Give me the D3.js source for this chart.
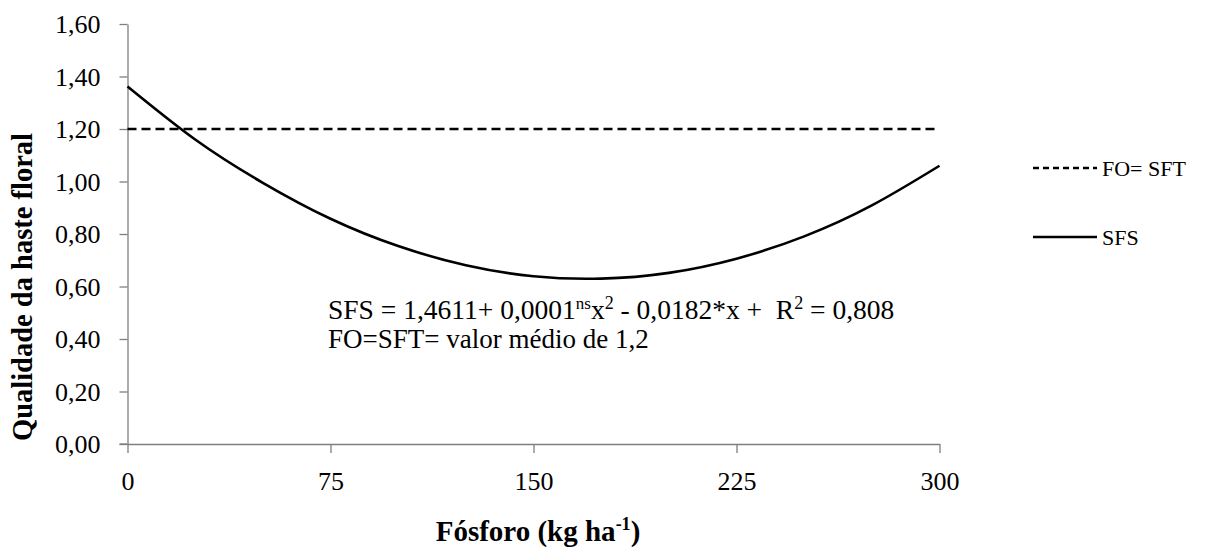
<!DOCTYPE html>
<html>
<head>
<meta charset="utf-8">
<script src="https://cdn.jsdelivr.net/npm/d3@7"></script>
<style>
  html, body { margin: 0; padding: 0; background: #fff; }
  svg { display: block; }
  svg text { font-family: "Liberation Serif", Tinos, "Times New Roman", Times, serif; fill: #000; }
</style>
</head>
<body>
<svg id="chart" width="1205" height="547"></svg>
<script>
// Phosphorus doses (kg ha-1) and the fitted SFS response
const doses = [0, 25, 50, 75, 100, 125, 150, 175, 200, 225, 250, 275, 300];
const sfsValues = [1.362, 1.160, 0.995, 0.858, 0.754, 0.681, 0.639, 0.630, 0.652, 0.706, 0.791, 0.909, 1.060];
// FO = SFT: constant mean value
const foSftMean = 1.2;
const foSftDoses = [0, 300];

const xTicks = [0, 75, 150, 225, 300];
const yTicks = [0, 0.2, 0.4, 0.6, 0.8, 1.0, 1.2, 1.4, 1.6];

const svg = d3.select("#chart");
const axisColor = "#7f7f7f";
const serif = "'Liberation Serif', Tinos, 'Times New Roman', Times, serif";

const x = d3.scaleLinear().domain([0, 300]).range([127.5, 939.5]);
const y = d3.scaleLinear().domain([0, 1.6]).range([444, 24]);

const comma = d => d3.format(".2f")(d).replace(".", ",");

// Y axis
const yAxis = svg.append("g")
  .attr("transform", `translate(${x(0)},0)`)
  .call(d3.axisLeft(y).tickValues(yTicks).tickFormat(comma).tickSize(8).tickSizeOuter(0).tickPadding(19));
yAxis.attr("font-family", serif);
yAxis.select(".domain").attr("stroke", axisColor).attr("stroke-width", 1.3);
yAxis.selectAll(".tick line").attr("stroke", axisColor).attr("stroke-width", 1.3);
yAxis.selectAll(".tick text")
  .attr("font-size", 26).attr("fill", "#000")
  .attr("dy", "0.34em");

// X axis
const xAxis = svg.append("g")
  .attr("transform", `translate(0,${y(0)})`)
  .call(d3.axisBottom(x).tickValues(xTicks).tickFormat(d3.format("d")).tickSize(9).tickSizeOuter(0).tickPadding(19));
xAxis.attr("font-family", serif);
xAxis.select(".domain").attr("stroke", axisColor).attr("stroke-width", 1.3);
xAxis.selectAll(".tick line").attr("stroke", axisColor).attr("stroke-width", 1.3);
xAxis.selectAll(".tick text")
  .attr("font-size", 26).attr("fill", "#000")
  .attr("dy", "0.71em");
// extend the baseline left under the 0,00 tick
svg.append("line")
  .attr("x1", x(0) - 8).attr("x2", x(0))
  .attr("y1", y(0)).attr("y2", y(0))
  .attr("stroke", axisColor).attr("stroke-width", 1.3);

// FO = SFT dashed mean line
svg.append("path")
  .datum(foSftDoses.map(d => [d, foSftMean]))
  .attr("d", d3.line().x(d => x(d[0])).y(d => y(d[1])))
  .attr("fill", "none").attr("stroke", "#000").attr("stroke-width", 2.6)
  .attr("stroke-dasharray", "9,5");

// SFS curve
svg.append("path")
  .datum(doses.map((d, i) => [d, sfsValues[i]]))
  .attr("d", d3.line().x(d => x(d[0])).y(d => y(d[1])).curve(d3.curveNatural))
  .attr("fill", "none").attr("stroke", "#000").attr("stroke-width", 2.6);

// Equation annotation
const eq = svg.append("text")
  .attr("x", 328).attr("y", 319)
  .attr("font-size", 27.5)
  .style("white-space", "pre");
eq.append("tspan").text("SFS = 1,4611+ 0,0001");
eq.append("tspan").attr("font-size", 17).attr("dy", -10).text("ns");
eq.append("tspan").attr("dy", 10).text("x");
eq.append("tspan").attr("font-size", 18).attr("dy", -10).text("2");
eq.append("tspan").attr("dy", 10).text(" - 0,0182*x +  R");
eq.append("tspan").attr("font-size", 18).attr("dy", -10).text("2");
eq.append("tspan").attr("dy", 10).text(" = 0,808");

svg.append("text")
  .attr("x", 328).attr("y", 348)
  .attr("font-size", 27)
  .text("FO=SFT= valor médio de 1,2");

// Axis titles
svg.append("text")
  .attr("transform", "translate(32,287) rotate(-90)")
  .attr("text-anchor", "middle")
  .attr("font-size", 28.5).attr("font-weight", "bold")
  .text("Qualidade da haste floral");

const xt = svg.append("text")
  .attr("x", 538).attr("y", 541)
  .attr("text-anchor", "middle")
  .attr("font-size", 29).attr("font-weight", "bold");
xt.append("tspan").text("Fósforo (kg ha");
xt.append("tspan").attr("font-size", 18).attr("dy", -11).text("-1");
xt.append("tspan").attr("dy", 11).text(")");

// Legend
const legend = [
  { label: "FO= SFT", dash: "6,4", y: 168 },
  { label: "SFS", dash: null, y: 237 }
];
const lg = svg.append("g");
legend.forEach(l => {
  lg.append("line")
    .attr("x1", 1033).attr("x2", 1097)
    .attr("y1", l.y).attr("y2", l.y)
    .attr("stroke", "#000").attr("stroke-width", 2.6)
    .attr("stroke-dasharray", l.dash);
  lg.append("text")
    .attr("x", 1102).attr("y", l.y + 8)
    .attr("font-size", 22)
    .text(l.label);
});
</script>
</body>
</html>
